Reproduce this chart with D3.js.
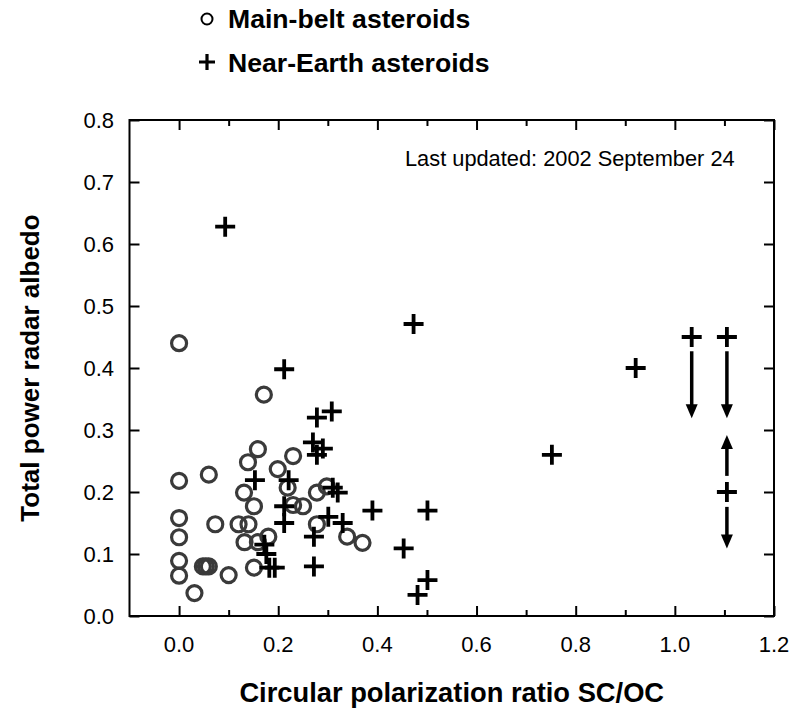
<!DOCTYPE html>
<html>
<head>
<meta charset="utf-8">
<script src="https://cdn.jsdelivr.net/npm/d3@7"></script>
<style>
  body { margin: 0; background: #fff; }
  svg text { font-family: "Liberation Sans", Arial, Helvetica, sans-serif; fill: #000; }
</style>
</head>
<body>
<div id="chart"></div>
<script>
// main-belt asteroids (polarization ratio, albedo)
const mainBeltX = [0.000, 0.171, 0.159, 0.139, 0.230, 0.199, 0.000, 0.060, 0.131, 0.219, 0.151,
  0.278, 0.298, 0.230, 0.250, 0.000, 0.073, 0.120, 0.140, 0.278, 0.000, 0.180, 0.132, 0.159,
  0.339, 0.370, 0.000, 0.000, 0.048, 0.054, 0.060, 0.100, 0.151, 0.031];
const mainBeltY = [0.440, 0.357, 0.269, 0.248, 0.258, 0.237, 0.218, 0.228, 0.199, 0.207, 0.177,
  0.199, 0.209, 0.179, 0.177, 0.158, 0.148, 0.148, 0.148, 0.148, 0.127, 0.128, 0.119, 0.119,
  0.128, 0.118, 0.089, 0.065, 0.080, 0.080, 0.080, 0.066, 0.078, 0.037];

// near-earth asteroids
const nearEarthX = [0.093, 0.212, 0.473, 0.308, 0.278, 0.270, 0.290, 0.278, 0.153, 0.221, 0.310,
  0.320, 0.212, 0.212, 0.301, 0.330, 0.390, 0.272, 0.172, 0.176, 0.182, 0.193, 0.272, 0.453,
  0.501, 0.501, 0.481, 0.752, 0.921, 1.034, 1.105, 1.105];
const nearEarthY = [0.628, 0.398, 0.471, 0.330, 0.320, 0.280, 0.270, 0.260, 0.219, 0.219, 0.207,
  0.199, 0.177, 0.150, 0.160, 0.150, 0.170, 0.128, 0.115, 0.100, 0.078, 0.078, 0.080, 0.109,
  0.170, 0.058, 0.034, 0.260, 0.400, 0.450, 0.450, 0.200];

// limit arrows: x, start albedo, tip albedo
const arrowX = [1.034, 1.105, 1.105, 1.105];
const arrowFrom = [0.427, 0.427, 0.226, 0.176];
const arrowTo = [0.319, 0.319, 0.292, 0.109];

const xTicks = [0.0, 0.2, 0.4, 0.6, 0.8, 1.0, 1.2];
const xMinorTicks = [0.1, 0.3, 0.5, 0.7, 0.9, 1.1];
const yTicks = [0.0, 0.1, 0.2, 0.3, 0.4, 0.5, 0.6, 0.7, 0.8];

const width = 791, height = 712;
const plotLeft = 129.5, plotRight = 774, plotTop = 120, plotBottom = 616;

const svg = d3.select("#chart").append("svg")
  .attr("width", width)
  .attr("height", height);

const x = d3.scaleLinear().domain([-0.1, 1.2]).range([plotLeft, plotRight]);
const y = d3.scaleLinear().domain([0, 0.8]).range([plotBottom, plotTop]);
const fmt = d3.format(".1f");

// ticks pointing inward on all four sides
svg.append("g").attr("transform", `translate(0,${plotBottom})`)
  .call(d3.axisBottom(x).tickValues(xTicks).tickSize(-10).tickFormat(""));
svg.append("g").attr("transform", `translate(0,${plotBottom})`)
  .call(d3.axisBottom(x).tickValues(xMinorTicks).tickSize(-6).tickFormat(""));
svg.append("g").attr("transform", `translate(0,${plotTop})`)
  .call(d3.axisTop(x).tickValues(xTicks).tickSize(-10).tickFormat(""));
svg.append("g").attr("transform", `translate(0,${plotTop})`)
  .call(d3.axisTop(x).tickValues(xMinorTicks).tickSize(-6).tickFormat(""));
svg.append("g").attr("transform", `translate(${plotLeft},0)`)
  .call(d3.axisLeft(y).tickValues(yTicks).tickSize(-10).tickFormat(""));
svg.append("g").attr("transform", `translate(${plotRight},0)`)
  .call(d3.axisRight(y).tickValues(yTicks).tickSize(-10).tickFormat(""));
svg.selectAll(".domain").remove();
svg.selectAll(".tick line").attr("stroke", "#000").attr("stroke-width", 2);

svg.append("rect")
  .attr("x", plotLeft).attr("y", plotTop)
  .attr("width", plotRight - plotLeft).attr("height", plotBottom - plotTop)
  .attr("fill", "none").attr("stroke", "#000").attr("stroke-width", 2);

// tick labels
svg.append("g").selectAll("text").data(xTicks).join("text")
  .attr("x", d => x(d)).attr("y", 652)
  .attr("text-anchor", "middle").attr("font-size", 22)
  .text(d => fmt(d));
svg.append("g").selectAll("text").data(yTicks).join("text")
  .attr("x", 114).attr("y", d => y(d) + 8)
  .attr("text-anchor", "end").attr("font-size", 22)
  .text(d => fmt(d));

// axis titles
svg.append("text")
  .attr("x", (plotLeft + plotRight) / 2).attr("y", 702)
  .attr("text-anchor", "middle").attr("font-size", 27.3).attr("font-weight", "bold")
  .text("Circular polarization ratio SC/OC");
svg.append("text")
  .attr("transform", `translate(39,${(plotTop + plotBottom) / 2}) rotate(-90)`)
  .attr("text-anchor", "middle").attr("font-size", 26).attr("font-weight", "bold")
  .text("Total power radar albedo");

svg.append("text")
  .attr("x", 405).attr("y", 166)
  .attr("font-size", 21.8)
  .text("Last updated: 2002 September 24");

// main-belt circles
svg.append("g").selectAll("circle").data(d3.range(mainBeltX.length)).join("circle")
  .attr("cx", i => x(mainBeltX[i]))
  .attr("cy", i => y(mainBeltY[i]))
  .attr("r", 7.5)
  .attr("fill", "none")
  .attr("stroke", "#3a3a3a")
  .attr("stroke-width", 3.2);

// near-earth crosses
const plus = s => `M${-s},0H${s}M0,${-s}V${s}`;
svg.append("g").selectAll("path").data(d3.range(nearEarthX.length)).join("path")
  .attr("transform", i => `translate(${x(nearEarthX[i])},${y(nearEarthY[i])})`)
  .attr("d", plus(10))
  .attr("stroke", "#000")
  .attr("stroke-width", 3.8);

// arrows
const arrows = svg.append("g").selectAll("g").data(d3.range(arrowX.length)).join("g");
arrows.append("line")
  .attr("x1", i => x(arrowX[i])).attr("x2", i => x(arrowX[i]))
  .attr("y1", i => y(arrowFrom[i]))
  .attr("y2", i => y(arrowTo[i]) + (arrowTo[i] < arrowFrom[i] ? -10 : 10))
  .attr("stroke", "#000").attr("stroke-width", 3.5);
arrows.append("path")
  .attr("d", i => {
    const tx = x(arrowX[i]), ty = y(arrowTo[i]);
    const dir = arrowTo[i] < arrowFrom[i] ? -1 : 1;
    return `M${tx},${ty}L${tx - 6},${ty + dir * 14}L${tx + 6},${ty + dir * 14}Z`;
  })
  .attr("fill", "#000");

// legend
svg.append("circle").attr("cx", 207).attr("cy", 19).attr("r", 5.5)
  .attr("fill", "none").attr("stroke", "#000").attr("stroke-width", 2);
svg.append("text").attr("x", 228).attr("y", 28)
  .attr("font-size", 26.6).attr("font-weight", "bold")
  .text("Main-belt asteroids");
svg.append("path").attr("transform", "translate(207,62)").attr("d", plus(8))
  .attr("stroke", "#000").attr("stroke-width", 3.2);
svg.append("text").attr("x", 228).attr("y", 72)
  .attr("font-size", 26.6).attr("font-weight", "bold")
  .text("Near-Earth asteroids");
</script>
</body>
</html>
